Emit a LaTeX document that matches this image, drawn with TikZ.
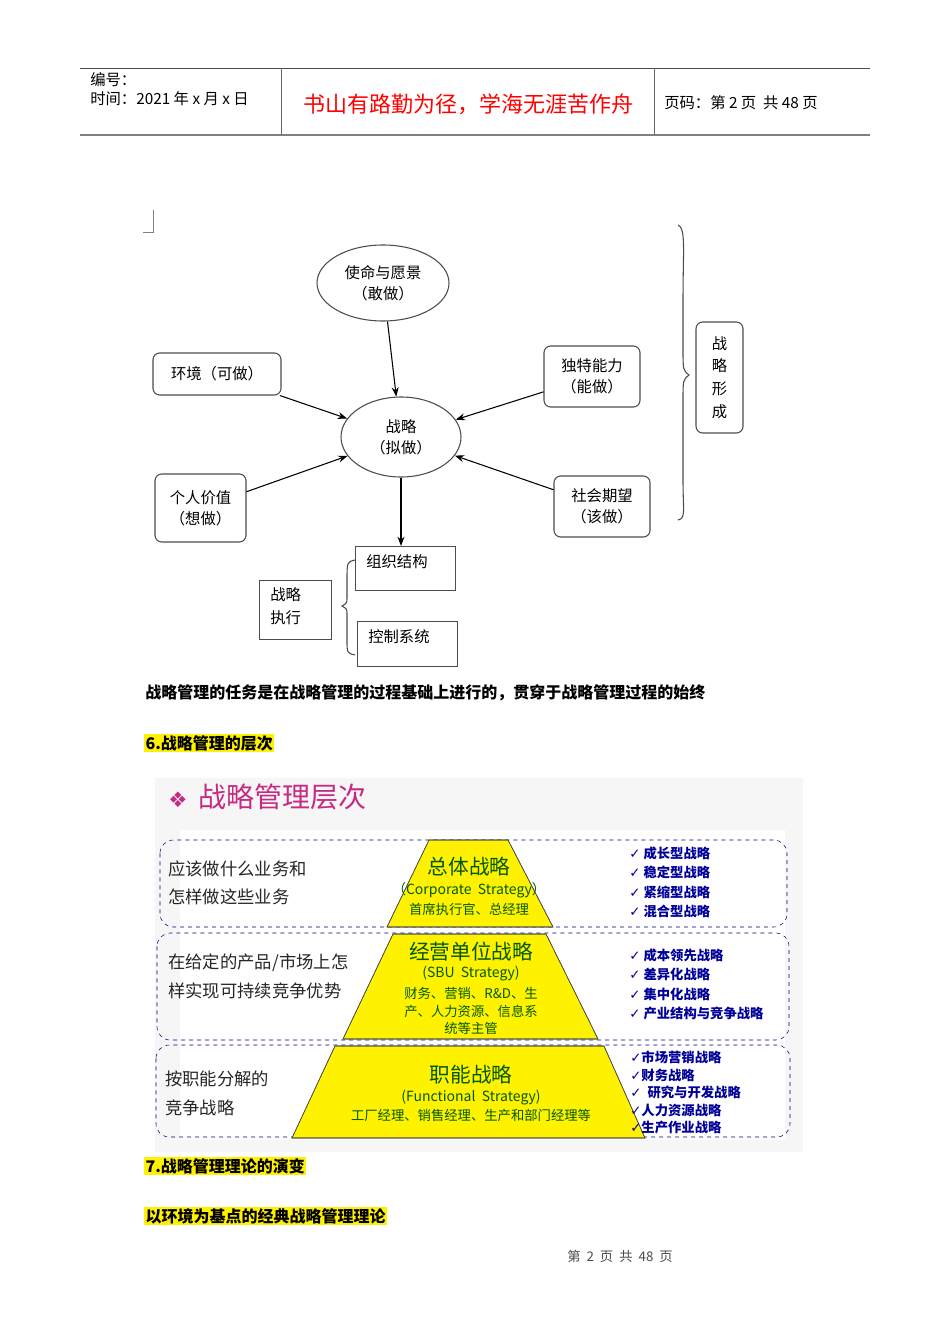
\documentclass[tikz,border=0pt]{standalone}
\usepackage{fontspec}
\setmainfont{Noto Sans CJK SC}
\newfontfamily\dv{DejaVu Sans}
\usetikzlibrary{shapes.geometric,arrows.meta,decorations.pathreplacing}
\begin{document}
\begin{tikzpicture}[x=0.75pt,y=-0.75pt,
  box/.style={draw=black!70,rounded corners=5pt,thick},
  sq/.style={draw=black!70,thick},
  arr/.style={-{Stealth[length=7pt]},thick},
  t/.style={font=\fontsize{11.5}{13}\selectfont,anchor=west,inner sep=0},
  hl/.style={fill=yellow,font=\fontsize{12}{14}\selectfont\bfseries,anchor=west,inner sep=1pt},
  dbox/.style={draw=blue!50!black,dashed,rounded corners=10pt},
  trap/.style={fill=yellow,draw=black!80},
  lt/.style={font=\fontsize{13}{15}\selectfont,anchor=west,inner sep=0,text=black!85},
  bl/.style={font=\fontsize{10}{12}\selectfont\bfseries,anchor=west,inner sep=0,text=blue!60!black},
  gt/.style={text=green!35!black,inner sep=0}]
\useasboundingbox (0,0) rectangle (950,1344);
\fill[white] (0,0) rectangle (950,1344);
% header
\draw[black!70] (80,68) -- (870,68);
\draw[black!50,thick] (80,135) -- (870,135);
\draw[black!60] (281,68) -- (281,135) (654,68) -- (654,135);
\node[t] (h1) at (90,80) {编号：};
\node[t] (h2) at (90,99) {时间：2021 年 x 月 x 日};
\node[text=red,font=\fontsize{16.5}{18}\selectfont,inner sep=0] (h3) at (468,104) {书山有路勤为径，学海无涯苦作舟};
\node[t] (h4) at (664,103) {页码：第 2 页\ \ 共 48 页};
% corner mark
\draw[black!50] (153,210) -- (153,232) -- (143,232);
% graph
\node[draw=black!70,thick,ellipse,minimum width=132pt*0.75,minimum height=76pt*0.75,align=center,font=\fontsize{11.5}{16}\selectfont] (m) at (383,283) {使命与愿景\\（敢做）};
\node[draw=black!70,thick,ellipse,minimum width=120pt*0.75,minimum height=80pt*0.75,align=center,font=\fontsize{11.5}{16}\selectfont] (s) at (401,437) {战略\\（拟做）};
\node[box,minimum width=96,minimum height=31.5,font=\fontsize{11.5}{13}\selectfont] (e) at (217,374) {环境（可做）};
\node[box,minimum width=72,minimum height=45.75,align=center,font=\fontsize{11.5}{16}\selectfont] (d) at (592,376.5) {独特能力\\（能做）};
\node[box,minimum width=68.25,minimum height=51,align=center,font=\fontsize{11.5}{16}\selectfont] (p) at (200.5,508) {个人价值\\（想做）};
\node[box,minimum width=72,minimum height=45.75,align=center,font=\fontsize{11.5}{16}\selectfont] (c) at (602,506.5) {社会期望\\（该做）};
\node[box,minimum width=35.25,minimum height=83.25,align=center,font=\fontsize{11.5}{17}\selectfont] (f) at (719.5,377.5) {战\\略\\形\\成};
\draw[black!70,thick] (678,225) .. controls (686,228) and (683,250) .. (683,300) -- (683,350) .. controls (683,370) .. (689,375) .. controls (683,380) .. (683,400) -- (683,480) .. controls (683,512) and (686,518) .. (678,520);
\draw[arr] (m) -- (s);
\draw[arr] (e) -- (s);
\draw[arr] (d) -- (s);
\draw[arr] (p) -- (s);
\draw[arr] (c) -- (s);
\node[sq,minimum width=75,minimum height=33,anchor=north west,inner sep=0] (o) at (355,546) {};
\node[t] at (366,562) {组织结构};
\node[sq,minimum width=75,minimum height=33.75,anchor=north west,inner sep=0] (k) at (357,621) {};
\node[t] at (368,637) {控制系统};
\node[sq,minimum width=54,minimum height=44.25,anchor=north west,inner sep=0] (x) at (259,580) {};
\node[t,align=left,font=\fontsize{11.5}{17}\selectfont] at (270,606) {战略\\执行};
\draw[arr] (s) -- (o.north -| s);
\draw[black!70,thick] (355,560) .. controls (347,562) .. (347,580) -- (347,598) .. controls (347,603) .. (342,606) .. controls (347,609) .. (347,614) -- (347,640) .. controls (347,653) .. (355,655);
% texts
\node[t,font=\fontsize{12}{14}\selectfont\bfseries] (l1) at (145,693) {战略管理的任务是在战略管理的过程基础上进行的，贯穿于战略管理过程的始终};
\node[hl] (l2) at (144,743) {6.战略管理的层次};
% pyramid panel
\fill[green!8!black!4] (155,778) rectangle (803,1152);
\fill[white] (180,830) rectangle (785,1140);
\node[anchor=west,inner sep=0,text=magenta!80!black] (tt) at (168,797) {{\dv\fontsize{16}{18}\selectfont ❖}\hspace{8pt}{\fontsize{21}{24}\selectfont 战略管理层次}};
\draw[dbox] (160,840) rectangle (787,927);
\draw[dbox] (157,933) rectangle (789,1040);
\draw[dbox] (156,1045) rectangle (790,1137);
\fill[trap] (429,840) -- (508,840) -- (553,927) -- (387,927) -- cycle;
\fill[trap] (393,934) -- (546,934) -- (598,1039) -- (343,1039) -- cycle;
\fill[trap] (335,1046) -- (604,1046) -- (645,1138) -- (292,1138) -- cycle;
\draw[black!70] (429,840) -- (508,840) -- (553,927) -- (387,927) -- cycle;
\draw[black!70] (393,934) -- (546,934) -- (598,1039) -- (343,1039) -- cycle;
\draw[black!70] (335,1046) -- (604,1046) -- (645,1138) -- (292,1138) -- cycle;
\node[lt] at (168,869) {应该做什么业务和};
\node[lt] at (168,897) {怎样做这些业务};
\node[lt] at (168,963) {在给定的产品/市场上怎};
\node[lt] at (168,991) {样实现可持续竞争优势};
\node[lt] at (165,1079) {按职能分解的};
\node[lt] at (165,1108) {竞争战略};
\node[gt,font=\fontsize{15.5}{17}\selectfont] at (469,867) {总体战略};
\node[gt,font=\fontsize{10.5}{12}\selectfont] at (469,890) {（Corporate\ \ Strategy）};
\node[gt,font=\fontsize{10}{11}\selectfont] at (469,909) {首席执行官、总经理};
\node[gt,font=\fontsize{15.5}{17}\selectfont] at (471,952) {经营单位战略};
\node[gt,font=\fontsize{10.5}{12}\selectfont] at (471,974) {(SBU\ \ Strategy)};
\node[gt,font=\fontsize{10}{13}\selectfont,align=center] at (471,1011) {财务、营销、R\&D、生\\产、人力资源、信息系\\统等主管};
\node[gt,font=\fontsize{15.5}{17}\selectfont] at (471,1075) {职能战略};
\node[gt,font=\fontsize{10.5}{12}\selectfont] at (471,1098) {(Functional\ \ Strategy)};
\node[gt,font=\fontsize{10}{11}\selectfont] at (471,1115) {工厂经理、销售经理、生产和部门经理等};
\foreach \y/\s in {853/成长型战略,872/稳定型战略,892/紧缩型战略,911/混合型战略}
  \node[bl] at (629,\y) {{\dv ✓}\ \s};
\foreach \y/\s in {955/成本领先战略,974/差异化战略,994/集中化战略,1013/产业结构与竞争战略}
  \node[bl] at (629,\y) {{\dv ✓}\ \s};
\foreach \y/\s in {1057/{\dv ✓}市场营销战略,1075/{\dv ✓}财务战略,1092/{\dv ✓}\ \ 研究与开发战略,1110/{\dv ✓}人力资源战略,1127/{\dv ✓}生产作业战略}
  \node[bl] at (630,\y) {\s};
\node[hl] (l3) at (144,1166) {7.战略管理理论的演变};
\node[hl] (l4) at (144,1216) {以环境为基点的经典战略管理理论};
\node[font=\fontsize{10}{11}\selectfont,text=black!70] (ft) at (620,1256) {第\ \ 2\ \ 页\ \ 共\ \ 48\ \ 页};
\end{tikzpicture}
\end{document}
